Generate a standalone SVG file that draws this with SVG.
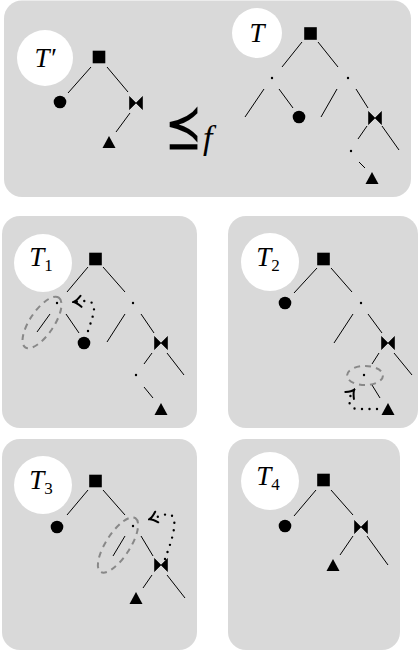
<svg xmlns="http://www.w3.org/2000/svg" xmlns:xlink="http://www.w3.org/1999/xlink" width="419" height="655" viewBox="0 0 419 655">
<style>
.panel{fill:#d9d9d9;stroke:none}
.lc{fill:#ffffff;stroke:none}
.lbl{font-family:"Liberation Serif","DejaVu Serif",serif;font-style:italic;font-size:27px;fill:#000}
.sub{font-style:normal;font-size:17px}
.e{stroke:#000;stroke-width:1;fill:none}
.hl{stroke:#888888;stroke-width:2;fill:none;stroke-dasharray:6 5}
.dt{stroke:#000;stroke-width:2.4;fill:none;stroke-dasharray:0 7.5;stroke-linecap:round}
.rel{font-family:"DejaVu Sans ExtraLight","DejaVu Sans",sans-serif;font-weight:200;font-size:44px;fill:#000}
.f{font-family:"Liberation Serif","DejaVu Serif",serif;font-style:italic;font-size:34px;fill:#000}
</style>
<defs>
<rect id="sq" x="-6.3" y="-6.3" width="12.6" height="12.6" fill="#000"/>
<circle id="ci" r="6.3" fill="#000"/>
<path id="bt" d="M-6.5,-6.5 L0,0 L-6.5,6.5 Z M6.5,-6.5 L0,0 L6.5,6.5 Z" fill="#000" stroke="#000" stroke-width="0.6" stroke-linejoin="round"/>
<path id="tr" d="M0,-6 L6.5,6 L-6.5,6 Z" fill="#000"/>
<circle id="dot" r="1.2" fill="#000"/>
<marker id="ah" viewBox="-10 -8 12 16" markerWidth="12" markerHeight="16" refX="0" refY="0" orient="auto" markerUnits="userSpaceOnUse">
<path d="M-7,-5.5 Q-2.5,-0.8 0.5,0 Q-2.5,0.8 -7,5.5" fill="none" stroke="#000" stroke-width="2" stroke-linecap="round"/>
</marker>
</defs>

<g id="panels">
<rect class="panel" x="4" y="0.5" width="407" height="196.5" rx="18"/>
<rect class="panel" x="2" y="216" width="195" height="212" rx="18"/>
<rect class="panel" x="228" y="216" width="190" height="212" rx="18"/>
<rect class="panel" x="2" y="439" width="195" height="211" rx="18"/>
<rect class="panel" x="228" y="439" width="172" height="211" rx="18"/>
</g>

<g id="label-Tprime"><circle class="lc" cx="45" cy="58" r="28"/><text class="lbl" x="45" y="67" text-anchor="middle">T′</text></g>
<g id="label-T"><circle class="lc" cx="257" cy="33" r="25"/><text class="lbl" x="257" y="42" text-anchor="middle">T</text></g>
<g id="label-T1"><circle class="lc" cx="43" cy="263" r="29"/><text class="lbl" x="41" y="266" text-anchor="middle">T<tspan class="sub" dy="5">1</tspan></text></g>
<g id="label-T2"><circle class="lc" cx="270" cy="262" r="29"/><text class="lbl" x="268" y="266" text-anchor="middle">T<tspan class="sub" dy="5">2</tspan></text></g>
<g id="label-T3"><circle class="lc" cx="43" cy="485" r="29"/><text class="lbl" x="41" y="489" text-anchor="middle">T<tspan class="sub" dy="5">3</tspan></text></g>
<g id="label-T4"><circle class="lc" cx="270" cy="481" r="29"/><text class="lbl" x="268" y="485" text-anchor="middle">T<tspan class="sub" dy="5">4</tspan></text></g>

<g id="relation"><text class="rel" x="0" y="-1" transform="translate(165,149) scale(1,1.4)">⪯</text><text class="f" x="203" y="149">f</text></g>

<g id="connectors">
<line class="e" x1="91" y1="67" x2="68" y2="93"/>
<line class="e" x1="107" y1="67" x2="128" y2="92"/>
<line class="e" x1="130" y1="113" x2="116" y2="132"/>
<line class="e" x1="302" y1="42" x2="282" y2="67"/>
<line class="e" x1="318" y1="42" x2="338" y2="67"/>
<line class="e" x1="264" y1="89" x2="245" y2="117"/>
<line class="e" x1="279" y1="89" x2="293" y2="108"/>
<line class="e" x1="337" y1="89" x2="321" y2="117"/>
<line class="e" x1="356" y1="89" x2="368" y2="108"/>
<line class="e" x1="367" y1="126" x2="358" y2="139"/>
<line class="e" x1="382" y1="126" x2="399" y2="150"/>
<line class="e" x1="359" y1="162" x2="365" y2="168"/>
<line class="e" x1="88" y1="267" x2="67" y2="292"/>
<line class="e" x1="103" y1="267" x2="125" y2="292"/>
<line class="e" x1="50" y1="314" x2="37" y2="332"/>
<line class="e" x1="66" y1="314" x2="79" y2="333"/>
<line class="e" x1="125" y1="314" x2="107" y2="342"/>
<line class="e" x1="141" y1="314" x2="154" y2="333"/>
<line class="e" x1="152" y1="353" x2="144" y2="364"/>
<line class="e" x1="167" y1="353" x2="184" y2="375"/>
<line class="e" x1="144" y1="387" x2="153" y2="398"/>
<ellipse class="hl" cx="42" cy="322.5" rx="30" ry="12" transform="rotate(-56 42 322.5)"/>
<path class="dt" d="M88,331 C94,313 99,301 85,301 L74,302" marker-end="url(#ah)"/>
<line class="e" x1="317" y1="268" x2="294" y2="293"/>
<line class="e" x1="331" y1="268" x2="352" y2="292"/>
<line class="e" x1="353" y1="314" x2="334" y2="343"/>
<line class="e" x1="368" y1="314" x2="382" y2="333"/>
<line class="e" x1="379" y1="353" x2="372" y2="364"/>
<line class="e" x1="394" y1="353" x2="412" y2="375"/>
<line class="e" x1="372" y1="385" x2="380" y2="398"/>
<ellipse class="hl" cx="365" cy="375.5" rx="18" ry="9.5"/>
<path class="dt" d="M377,409 L358,409 C349,409 346,400 354,390" marker-end="url(#ah)"/>
<line class="e" x1="88" y1="490" x2="67" y2="515"/>
<line class="e" x1="103" y1="490" x2="125" y2="515"/>
<line class="e" x1="125" y1="536" x2="113" y2="556"/>
<line class="e" x1="141" y1="536" x2="153" y2="556"/>
<line class="e" x1="152" y1="575" x2="143" y2="588"/>
<line class="e" x1="167" y1="575" x2="185" y2="598"/>
<ellipse class="hl" cx="118" cy="545" rx="32" ry="12" transform="rotate(-57 118 545)"/>
<path class="dt" d="M165,559 C172,540 181,514 167,514 L150,519" marker-end="url(#ah)"/>
<line class="e" x1="316" y1="490" x2="294" y2="516"/>
<line class="e" x1="331" y1="490" x2="353" y2="515"/>
<line class="e" x1="353" y1="536" x2="340" y2="555"/>
<line class="e" x1="367" y1="536" x2="388" y2="565"/>
</g>

<g id="Tprime-nodes">
<use href="#sq" x="99" y="57"/>
<use href="#ci" x="60" y="102"/>
<use href="#bt" x="136" y="103"/>
<use href="#tr" x="109" y="142"/>
</g>
<g id="T-nodes">
<use href="#sq" x="310.5" y="33.5"/>
<use href="#dot" x="272" y="78"/>
<use href="#dot" x="348" y="78"/>
<use href="#ci" x="299" y="117"/>
<use href="#bt" x="375" y="118"/>
<use href="#dot" x="351" y="151"/>
<use href="#tr" x="372" y="178"/>
</g>
<g id="T1-nodes">
<use href="#sq" x="95.5" y="259"/>
<use href="#dot" x="57" y="303"/>
<use href="#dot" x="133" y="303"/>
<use href="#ci" x="84" y="343"/>
<use href="#bt" x="161" y="343"/>
<use href="#dot" x="136" y="375"/>
<use href="#tr" x="161" y="409"/>
</g>
<g id="T2-nodes">
<use href="#sq" x="323.5" y="259"/>
<use href="#ci" x="285" y="303"/>
<use href="#dot" x="361" y="303"/>
<use href="#bt" x="388" y="343"/>
<use href="#dot" x="364" y="375"/>
<use href="#tr" x="388" y="409"/>
</g>
<g id="T3-nodes">
<use href="#sq" x="95.5" y="481"/>
<use href="#ci" x="57" y="527"/>
<use href="#dot" x="133" y="526"/>
<use href="#bt" x="161" y="565"/>
<use href="#tr" x="136" y="598"/>
</g>
<g id="T4-nodes">
<use href="#sq" x="323.5" y="480"/>
<use href="#ci" x="285" y="526"/>
<use href="#bt" x="361" y="527"/>
<use href="#tr" x="333" y="565"/>
</g>
</svg>
